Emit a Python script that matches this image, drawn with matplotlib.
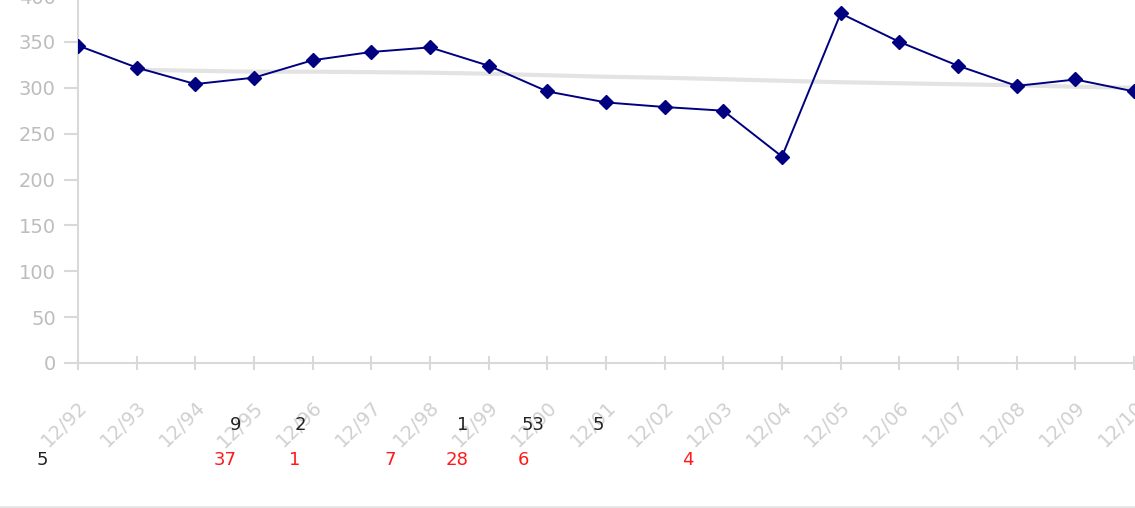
import matplotlib
matplotlib.use("Agg")
import matplotlib.pyplot as plt
from matplotlib.lines import Line2D

# ---- data ----
categories = ["12/92", "12/93", "12/94", "12/95", "12/96", "12/97", "12/98", "12/99",
              "12/00", "12/01", "12/02", "12/03", "12/04", "12/05", "12/06", "12/07",
              "12/08", "12/09", "12/10"]
series_values = [346, 322, 304, 311, 330, 339, 344, 324, 296, 284, 279, 275, 225,
                 381, 350, 324, 302, 309, 296]
trend_values = [None, 319.6, 318.5, 317.5, 317.5, 317.0, 316.4, 315.3, 313.6, 312.0,
                310.9, 309.3, 307.6, 306.0, 304.9, 303.8, 302.7, 301.1, 300.0]
y_ticks = [0, 50, 100, 150, 200, 250, 300, 350, 400]

# overlay text fragments (figure pixel positions)
black_row_labels = ["9", "2", "1", "53", "5"]
black_row_x = [236, 300, 463, 533, 598]
red_row_labels = ["37", "1", "7", "28", "6", "4"]
red_row_x = [225, 295, 390, 457, 523, 688]

W, H = 1135, 508
fig = plt.figure(figsize=(W / 100, H / 100), dpi=100)
ax = fig.add_axes([78 / W, 145 / H, (1134 - 78) / W, 367 / H])

x = list(range(len(categories)))
tx = [i for i, v in zip(x, trend_values) if v is not None]
ty = [v for v in trend_values if v is not None]
ax.plot(tx, ty, color="#e3e3e3", lw=3, zorder=2)
ax.plot(x, series_values, color="#000080", lw=1.4, marker="D", markersize=7,
        markerfacecolor="#000080", markeredgecolor="#000080", zorder=3)

ax.set_xlim(0, len(categories) - 1)
ax.set_ylim(0, 400)
ax.set_yticks(y_ticks)
ax.set_yticklabels([str(v) for v in y_ticks])
ax.set_xticks(x)
ax.set_xticklabels(categories, rotation=45, ha="right", rotation_mode="anchor")

for s in ["top", "right"]:
    ax.spines[s].set_visible(False)
for s in ["left", "bottom"]:
    ax.spines[s].set_color("#d9d9d9")
    ax.spines[s].set_linewidth(1.5)
ax.tick_params(axis="y", colors="#d9d9d9", labelcolor="#bdbdbd", labelsize=14,
               length=10, width=1.5, pad=6)
ax.tick_params(axis="x", colors="#d9d9d9", labelcolor="#d0d0d0", labelsize=14,
               length=10, width=1.5, direction="inout", pad=20)
ax.grid(False)

for lab, px in zip(black_row_labels, black_row_x):
    fig.text(px / W, 1 - 425 / H, lab, color="#222222", fontsize=13,
             ha="center", va="center")
fig.text(42 / W, 1 - 460 / H, "5", color="#222222", fontsize=13, ha="center", va="center")
for lab, px in zip(red_row_labels, red_row_x):
    fig.text(px / W, 1 - 460 / H, lab, color="#ff1a1a", fontsize=13,
             ha="center", va="center")

fig.add_artist(Line2D([0, 1], [1.5 / H, 1.5 / H], color="#e6e6e6", lw=2,
                      transform=fig.transFigure))

fig.savefig("out.png", dpi=100, facecolor="white")
